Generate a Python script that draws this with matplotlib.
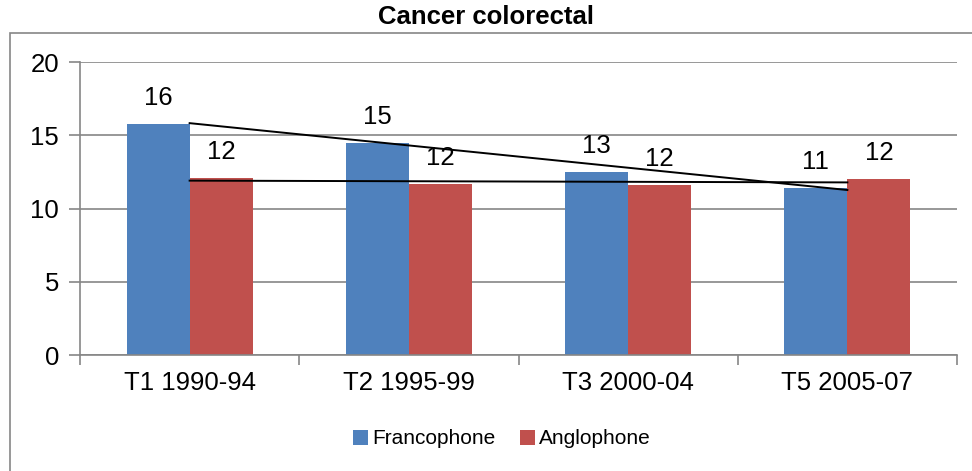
import numpy as np
import matplotlib
matplotlib.use("Agg")
import matplotlib.pyplot as plt
from matplotlib.patches import Rectangle

plt.rcParams['font.family'] = ['Liberation Sans', 'DejaVu Sans']

periods = ["T1 1990-94", "T2 1995-99", "T3 2000-04", "T5 2005-07"]
francophone = [15.8, 14.5, 12.5, 11.4]
anglophone = [12.1, 11.7, 11.6, 12.0]
series_names = ["Francophone", "Anglophone"]
colors = ["#4F81BD", "#C0504D"]

W, H = 972, 471
fig = plt.figure(figsize=(W / 100, H / 100), dpi=100)
ax = fig.add_axes([80 / W, 1 - 355.3 / H, (957 - 80) / W, (355.3 - 62) / H])

x = np.arange(len(periods))
bw = 0.287
grey = "#868686"

for i, (vals, name, c) in enumerate(zip([francophone, anglophone], series_names, colors)):
    pos = x + (i - 0.5) * bw
    ax.bar(pos, vals, bw, color=c, label=name, zorder=2)
    for p, v in zip(pos, vals):
        ax.annotate("%d" % np.floor(v + 0.5), (p, v), xytext=(0, 10), textcoords="offset points",
                    ha="center", va="bottom", fontsize=18.5)

# linear trendlines
for vals in [francophone, anglophone]:
    k, b = np.polyfit(x, vals, 1)
    ax.plot([x[0], x[-1]], [k * x[0] + b, k * x[-1] + b], color="black", lw=1.4, zorder=3)

ax.set_xlim(-0.5, len(periods) - 0.5)
ax.set_ylim(0, 20)
ax.set_yticks([0, 5, 10, 15, 20])
ax.yaxis.grid(True, color=grey, lw=1.2, zorder=0)
ax.set_axisbelow(True)
ax.set_xticks(x)
ax.set_xticklabels(periods, fontsize=18.5)
ax.set_xticks(np.arange(-0.5, len(periods)), minor=True)
ax.tick_params(axis="x", which="major", length=0, pad=11)
ax.tick_params(axis="x", which="minor", length=7, color=grey, width=1.2)
ax.tick_params(axis="y", length=8, color=grey, width=1.2, labelsize=18.5, pad=7)
for s in ["top", "right"]:
    ax.spines[s].set_visible(False)
for s in ["left", "bottom"]:
    ax.spines[s].set_color(grey)
    ax.spines[s].set_linewidth(1.2)

# chart border
fig.patches.append(Rectangle((10 / W, -0.02), 1.2, 1 - 33 / H + 0.02, transform=fig.transFigure,
                             fill=False, edgecolor=grey, lw=1.2))

fig.text(0.5, 1 - 17 / H, "Cancer colorectal", ha="center", va="center",
         fontsize=18.5, fontweight="bold")

fig.legend(loc="center", bbox_to_anchor=(502 / W, 1 - 439 / H), ncol=2, frameon=False,
           fontsize=15, handlelength=0.7, handleheight=0.7, handletextpad=0.2, columnspacing=1.2)

fig.savefig("out.png", dpi=100)
